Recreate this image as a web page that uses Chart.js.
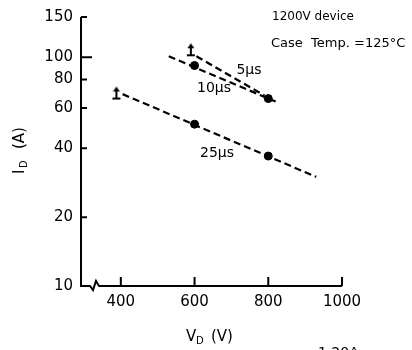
<!DOCTYPE html>
<html>
<head>
<meta charset="utf-8">
<script src="https://cdn.jsdelivr.net/npm/chart.js@4.4.1/dist/chart.umd.min.js"></script>
<style>
  html, body { margin: 0; padding: 0; background: #fff; }
  #wrap { width: 412px; height: 350px; }
</style>
</head>
<body>
<div id="wrap"><canvas id="chart" width="412" height="350"></canvas></div>
<script>
// tick labels
const xTicks = [400, 600, 800, 1000]
const yTicks = [10, 20, 40, 60, 80, 100, 150]

// dashed lines (V_D, I_D)
const line25V = [405, 930]
const line25I = [69, 30]
const line10V = [530, 820]
const line10I = [101, 64]
const line5V = [605, 790]
const line5I = [101, 68]

// measured points
const dotV = [600, 800]
const dot25I = [51, 37]
const dot10I = [92, 66]

// lower-bound arrows
const arrowV = [388, 590]
const arrowI = [66, 102]

const pairs = (xs, ys) => xs.map((x, i) => ({ x: x, y: ys[i] }))

const FONT = '"DejaVu Sans", sans-serif'

// up arrow with a foot, base sits on the point
const makeArrow = () => {
    const c = document.createElement('canvas')
    c.width = 10; c.height = 26
    const g = c.getContext('2d')
    g.strokeStyle = '#000'; g.fillStyle = '#000'; g.lineWidth = 2
    g.beginPath(); g.moveTo(5, 13); g.lineTo(5, 4); g.stroke()
    g.beginPath(); g.moveTo(1, 13); g.lineTo(9, 13); g.stroke()
    g.beginPath(); g.moveTo(5, 1); g.lineTo(1.5, 6); g.lineTo(8.5, 6); g.closePath(); g.fill()
    return c
}

const dashed = (data) => ({
    data, showLine: true, borderColor: '#000', borderWidth: 2.2,
    borderDash: [7, 4], pointRadius: 0, fill: false
})

const labels = {
    id: 'labels',
    afterDraw(chart) {
        const { ctx, scales: { x, y }, chartArea: a } = chart
        ctx.save()
        ctx.strokeStyle = '#000'
        ctx.fillStyle = '#000'
        ctx.lineWidth = 2
        // axes with break
        ctx.beginPath()
        ctx.moveTo(a.left, a.top)
        ctx.lineTo(a.left, a.bottom)
        ctx.lineTo(a.left + 9, a.bottom)
        ctx.lineTo(a.left + 12, a.bottom + 4)
        ctx.lineTo(a.left + 15, a.bottom - 5)
        ctx.lineTo(a.left + 18, a.bottom)
        ctx.lineTo(a.right, a.bottom)
        ctx.stroke()
        // inward ticks
        ctx.beginPath()
        yTicks.forEach(v => {
            const p = y.getPixelForValue(v)
            ctx.moveTo(a.left, p); ctx.lineTo(a.left + (v === 100 ? 11 : 6), p)
        })
        xTicks.forEach(v => {
            const p = x.getPixelForValue(v)
            ctx.moveTo(p, a.bottom); ctx.lineTo(p, a.bottom - 9)
        })
        ctx.stroke()

        ctx.textBaseline = 'middle'
        ctx.font = '14px ' + FONT
        ctx.textAlign = 'center'
        ctx.fillText('5\u03bcs', 249, 70)
        ctx.fillText('10\u03bcs', 214, 88)
        ctx.fillText('25\u03bcs', 217, 153)

        ctx.textAlign = 'left'
        ctx.font = '12px ' + FONT
        ctx.fillText('1200V device', 272, 17)
        ctx.font = '13px ' + FONT
        ctx.fillText('Case  Temp. =125\u00b0C', 271, 44)

        // x title
        ctx.font = '15px ' + FONT
        ctx.fillText('V', 186, 337)
        ctx.font = '10px ' + FONT
        ctx.fillText('D', 196, 341)
        ctx.font = '15px ' + FONT
        ctx.fillText('(V)', 211, 337)

        // y title
        ctx.translate(20, 146)
        ctx.rotate(-Math.PI / 2)
        ctx.fillText('I', -28, 0)
        ctx.font = '10px ' + FONT
        ctx.fillText('D', -22, 4)
        ctx.font = '15px ' + FONT
        ctx.fillText('(A)', -3, 0)
        ctx.restore()

        // clipped line from the page below
        ctx.save()
        ctx.font = '14px ' + FONT
        ctx.textBaseline = 'top'
        ctx.fillText('1 20A', 318, 346)
        ctx.restore()
    }
}

new Chart('chart', {
    type: 'scatter',
    data: {
        datasets: [
            dashed(pairs(line25V, line25I)),
            dashed(pairs(line10V, line10I)),
            dashed(pairs(line5V, line5I)),
            { data: pairs(dotV, dot25I), pointRadius: 4, pointBackgroundColor: '#000', pointBorderColor: '#000' },
            { data: pairs(dotV, dot10I), pointRadius: 4, pointBackgroundColor: '#000', pointBorderColor: '#000' },
            { data: pairs(arrowV, arrowI), pointStyle: makeArrow(), pointRadius: 6 }
        ]
    },
    options: {
        responsive: false,
        animation: false,
        devicePixelRatio: 1,
        layout: { padding: { top: 15, right: 70, left: 0, bottom: 0 } },
        plugins: { legend: { display: false }, tooltip: { enabled: false } },
        scales: {
            x: {
                type: 'linear', min: 292, max: 1000,
                grid: { display: false, drawTicks: false }, border: { display: false },
                afterBuildTicks: s => { s.ticks = xTicks.map(v => ({ value: v })) },
                afterFit: s => { s.height = 64 },
                ticks: { color: '#000', padding: 7, maxRotation: 0, font: { family: FONT, size: 15 }, callback: v => String(v) }
            },
            y: {
                type: 'logarithmic', min: 10, max: 150,
                grid: { display: false, drawTicks: false }, border: { display: false },
                afterBuildTicks: s => { s.ticks = yTicks.map(v => ({ value: v })) },
                afterFit: s => { s.width = 81 },
                ticks: { color: '#000', padding: 8, font: { family: FONT, size: 15 }, callback: v => String(v) }
            }
        }
    },
    plugins: [labels]
})
</script>
</body>
</html>
